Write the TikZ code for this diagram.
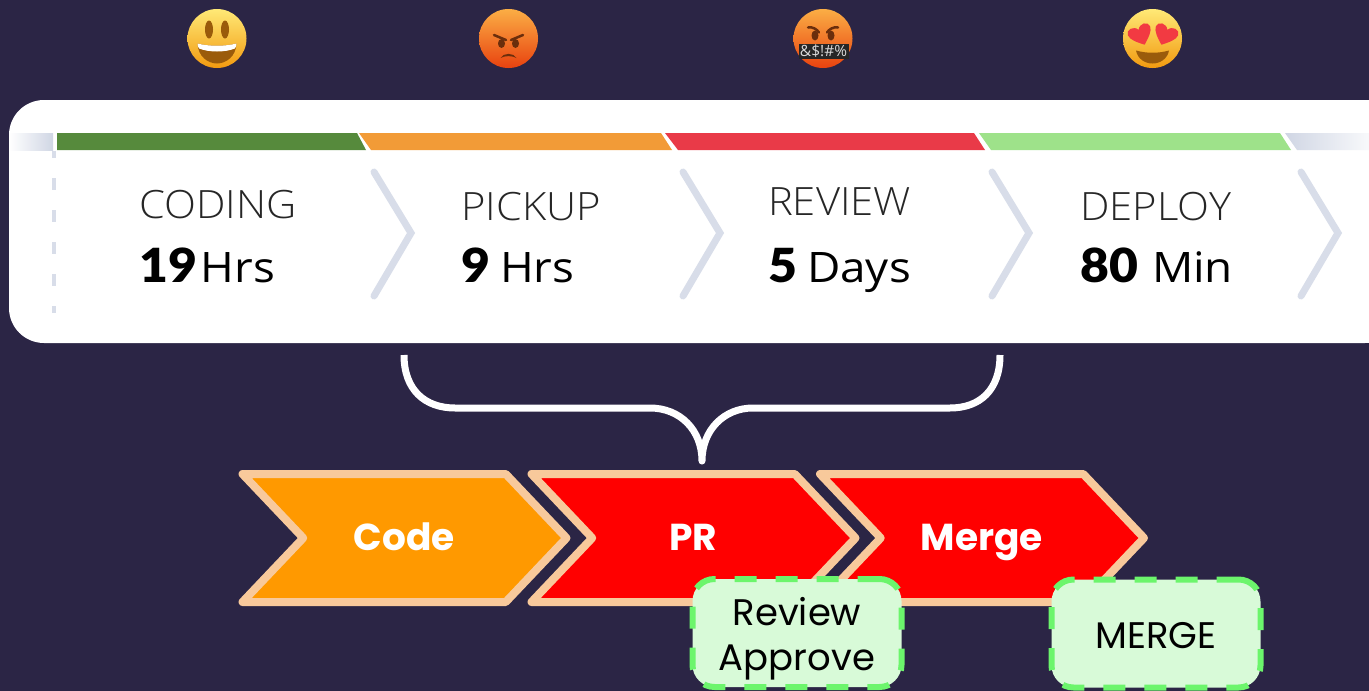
\documentclass[tikz,border=0pt]{standalone}
\usepackage{fontspec}
\usetikzlibrary{shapes.symbols}
\setmainfont{Open Sans}
\newfontfamily\thinfont[FakeStretch=1.07]{Open Sans Light}
\newfontfamily\valuefont[FakeStretch=1.09]{Open Sans}
\newfontfamily\heavyfont[FakeStretch=1.06]{Lato Black}
\newfontfamily\popfont{Poppins}

\definecolor{pagebg}{HTML}{2B2545}
\definecolor{barfirst}{HTML}{568A3C}
\definecolor{barsecond}{HTML}{F29B37}
\definecolor{barthird}{HTML}{E93A48}
\definecolor{barfourth}{HTML}{9EE28A}
\definecolor{bargrey}{HTML}{D0D6E4}
\definecolor{arrowgrey}{HTML}{D8DDE9}
\definecolor{chevline}{HTML}{F8C99B}
\definecolor{chevorange}{HTML}{FF9900}
\definecolor{chevred}{HTML}{FF0000}
\definecolor{notefill}{HTML}{D8FAD8}
\definecolor{noteline}{HTML}{6CF56C}
\definecolor{mouthbrown}{HTML}{9A5B0B}
\definecolor{browdark}{HTML}{6B2E0C}
\definecolor{lovefaceA}{HTML}{FFE976}
\definecolor{lovefaceB}{HTML}{FFCB2E}
\definecolor{lovefaceC}{HTML}{F29A10}
\definecolor{madfaceA}{HTML}{FBAE45}
\definecolor{madfaceB}{HTML}{F4701E}
\definecolor{madfaceC}{HTML}{E8420F}
\definecolor{heartred}{HTML}{F23A42}

\tikzset{
  stagename/.style={anchor=base west, inner sep=0pt, font=\thinfont\fontsize{39}{42}\selectfont, text=black!85},
  stagevalue/.style={anchor=base west, inner sep=0pt, font=\valuefont\fontsize{42}{45}\selectfont, text=black},
  stagearrow/.style={draw=arrowgrey, line width=7pt, line cap=round, miter limit=10},
  chevron/.style={shape=signal, signal from=west, signal to=east, signal pointer angle=93,
    inner sep=0pt, minimum width=324pt, minimum height=128pt, draw=chevline, line width=8pt,
    line join=round, text=white, text height=24pt, text depth=0pt, font=\popfont\bfseries\fontsize{37.5}{40}\selectfont},
  notebox/.style={draw=noteline, fill=notefill, line width=6pt, rounded corners=22pt, dash pattern=on 22pt off 19pt,
    minimum width=209pt, minimum height=108pt, align=center, inner sep=0pt, text=black,
    font=\popfont\fontsize{37}{45}\selectfont},
  bracket/.style={draw=white, line width=7pt, line join=round},
}

\newcommand{\mouthopen}{(-19.5,5) .. controls (-8,8) and (8,8) .. (19.5,5) .. controls (19,18) and (9,25) .. (0,25) .. controls (-9,25) and (-19,18) .. (-19.5,5) -- cycle}
\newcommand{\heartpath}{(0,11) .. controls (-6,6) and (-12,1) .. (-12,-4) .. controls (-12,-10) and (-3,-11) .. (0,-5) .. controls (3,-11) and (12,-10) .. (12,-4) .. controls (12,1) and (6,6) .. (0,11) -- cycle}
\newcommand{\bignum}[2]{{\heavyfont\fontsize{47}{50}\selectfont #1}\hspace{#2}}

\begin{document}
\begin{tikzpicture}[x=1pt, y=-1pt]
    \useasboundingbox (0,0) rectangle (1369,691);
    \clip (0,0) rectangle (1369,691);
    \fill[pagebg] (0,0) rectangle (1369,691);

    % white card
    \fill[white, rounded corners=35pt] (9,100) rectangle (1400,343);

    % colour bars
    \shade[left color=white, right color=bargrey] (9,133) rectangle (53,150);
    \fill[barfirst] (57,133) -- (357,133) -- (366,150) -- (57,150) -- cycle;
    \fill[barsecond] (359,133) -- (661,133) -- (672,150) -- (371,150) -- cycle;
    \fill[barthird] (665,133) -- (974,133) -- (985,150) -- (678,150) -- cycle;
    \fill[barfourth] (979,133) -- (1280,133) -- (1291,150) -- (991,150) -- cycle;
    \shade[left color=bargrey, right color=white!85!bargrey] (1285,133) -- (1369,133) -- (1369,150) -- (1297,150) -- cycle;
    \draw[arrowgrey, line width=4pt, dash pattern=on 12pt off 20pt, dash phase=5pt] (53.5,151) -- (53.5,313);

    % stage arrows
    \draw[stagearrow] (374,172) -- (411,233) -- (374,296);
    \draw[stagearrow] (683,172) -- (720,233) -- (683,296);
    \draw[stagearrow] (992,172) -- (1029,233) -- (992,296);
    \draw[stagearrow] (1301,172) -- (1338,233) -- (1301,296);

    % stages
    \node[stagename] (coding) at (139,218) {CODING};
    \node[stagename] (pickup) at (461,220) {PICKUP};
    \node[stagename] (review) at (768,215) {REVIEW};
    \node[stagename] (deploy) at (1080,220) {DEPLOY};
    \node[stagevalue] (codingval) at (139,282) {\bignum{19}{4pt}Hrs};
    \node[stagevalue] (pickupval) at (461,282) {\bignum{9}{10pt}Hrs};
    \node[stagevalue] (reviewval) at (768,282) {\bignum{5}{10pt}Days};
    \node[stagevalue] (deployval) at (1080,282) {\bignum{80}{14pt}Min};

    % smile
    \begin{scope}[shift={(217,38.5)}]
        \shade[top color=lovefaceA, middle color=lovefaceB, bottom color=lovefaceC] (0,0) circle (29.5);
        \fill[mouthbrown] (-8,-9) ellipse (4 and 9);
        \fill[mouthbrown] (8,-9) ellipse (4 and 9);
        \fill[mouthbrown] \mouthopen;
        \fill[white] (-19.5,5) .. controls (-8,8) and (8,8) .. (19.5,5) .. controls (19.5,7) and (19,8.5) .. (18,10)
            .. controls (8,14) and (-8,14) .. (-18,10) .. controls (-19,8.5) and (-19.5,7) .. (-19.5,5) -- cycle;
    \end{scope}

    % angry
    \begin{scope}[shift={(508.5,38.5)}]
        \shade[top color=madfaceA, middle color=madfaceB, bottom color=madfaceC] (0,0) circle (29.5);
        \draw[browdark, line width=2.5pt, line cap=round] (-14.5,-3.5) -- (-2.5,1.5);
        \draw[browdark, line width=2.5pt, line cap=round] (14.5,-3.5) -- (2.5,1.5);
        \fill[browdark] (-7,5) ellipse (3.5 and 4.5);
        \fill[browdark] (7,5) ellipse (3.5 and 4.5);
        \fill[browdark] (-8,19.5) .. controls (-5,14) and (5,14) .. (8,19.5) .. controls (4,17) and (-4,17) .. (-8,19.5) -- cycle;
    \end{scope}

    % swearing
    \begin{scope}[shift={(823,38.5)}]
        \shade[top color=madfaceA, middle color=madfaceB, bottom color=madfaceC] (0,0) circle (29.5);
        \draw[browdark, line width=2.5pt, line cap=round] (-15,-11) .. controls (-10,-12) and (-6,-9) .. (-4,-6);
        \draw[browdark, line width=2.5pt, line cap=round] (15,-11) .. controls (10,-12) and (6,-9) .. (4,-6);
        \fill[browdark] (-8,-3) ellipse (3.5 and 5);
        \fill[browdark] (8,-3) ellipse (3.5 and 5);
        \node[fill=black!85, text=white!85!black, inner sep=0pt, minimum width=50pt, minimum height=15pt,
            font=\fontsize{15.5}{16}\selectfont] (swear) at (0.5,13) {\&\$!\#\%};
    \end{scope}

    % love
    \begin{scope}[shift={(1152.5,38.5)}]
        \shade[top color=lovefaceA, middle color=lovefaceB, bottom color=lovefaceC] (0,0) circle (29.5);
        \fill[mouthbrown] (-16.5,12) .. controls (-6,15) and (6,15) .. (16.5,12) .. controls (15,20) and (8,25) .. (0,25) .. controls (-8,25) and (-15,20) .. (-16.5,12) -- cycle;
        \fill[heartred, shift={(-12,-4)}, rotate=22] \heartpath;
        \fill[heartred, shift={(13,-4)}, rotate=-22] \heartpath;
    \end{scope}

    % brace
    \coordinate (braceleft) at (404,355);
    \coordinate (bracetip) at (702,461);
    \coordinate (braceright) at (1000,355);
    \draw[bracket] (braceleft) .. controls (404,390) and (425,408) .. (455,408) -- (650,408)
        .. controls (680,408) and (702,430) .. (bracetip)
        .. controls (702,430) and (724,408) .. (753,408) -- (950,408)
        .. controls (980,408) and (1000,390) .. (braceright);

    % chevrons
    \node[chevron, fill=chevorange] (code) at (404.5,538) {Code};
    \node[chevron, fill=chevred] (pr) at (693.5,538) {PR};
    \node[chevron, fill=chevred] (merge) at (982,538) {Merge};

    % notes
    \node[notebox] (approve) at (797,633) {\rule{0pt}{40pt}Review\\Approve};
    \node[notebox] (mergenote) at (1156,633.5) {\rule{0pt}{30pt}MERGE};
\end{tikzpicture}
\end{document}
